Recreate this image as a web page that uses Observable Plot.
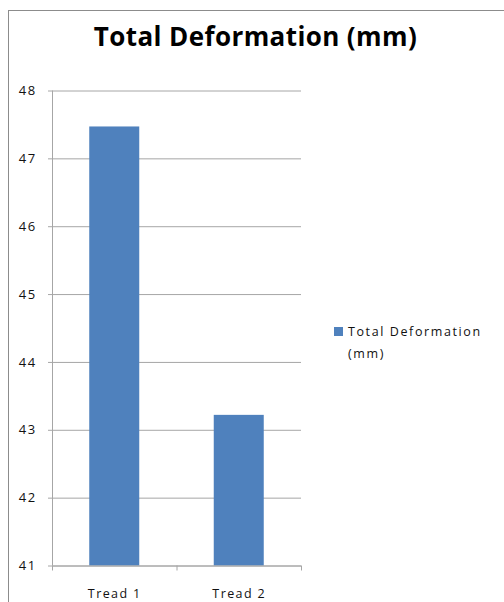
<!DOCTYPE html>
<html>
<head>
<meta charset="utf-8">
<script src="https://cdn.jsdelivr.net/npm/d3@7"></script>
<script src="https://cdn.jsdelivr.net/npm/@observablehq/plot@0.6"></script>
<style>
  html, body { margin: 0; padding: 0; background: #fff; }
  #wrap { position: relative; width: 504px; height: 602px; overflow: hidden; background: #fff; }
  #frame { position: absolute; left: 8px; top: 10px; width: 600px; height: 700px; border-top: 1px solid #8c8c8c; border-left: 1px solid #8c8c8c; }
  #title { position: absolute; left: 0; width: 511px; top: 18px; text-align: center; font-family: "Open Sans", sans-serif; font-weight: bold; font-size: 26px; letter-spacing: 0.4px; color: #000; }
  #legend { position: absolute; left: 334px; top: 321px; font-family: "Open Sans", sans-serif; font-size: 12.5px; letter-spacing: 1.6px; color: #111; line-height: 22px; }
  #legend .sw { position: absolute; left: 0; top: 6px; width: 9px; height: 9px; background: #4f81bd; }
  #legend .tx { position: absolute; left: 14px; top: 0; white-space: nowrap; }
  #chart { position: absolute; left: 0; top: 0; }
  #chart text { letter-spacing: 1.4px; }
</style>
</head>
<body>
<div id="wrap">
  <div id="frame"></div>
  <div id="chart"></div>
  <div id="title"></div>
  <div id="legend"><div class="sw"></div><div class="tx"></div></div>
</div>
<script>
const categories = ["Tread 1", "Tread 2"];
const values = [47.47, 43.22];
const yTicks = [41, 42, 43, 44, 45, 46, 47, 48];
const yDomain = [41, 48];
const seriesName = "Total Deformation (mm)";
const legendLines = ["Total Deformation", "(mm)"];
const barColor = "#4f81bd";
const gridColor = "#a6a6a6";

const data = categories.map((c, i) => ({category: c, index: i, value: values[i]}));
const boundaries = d3.range(categories.length + 1);
const centers = categories.map((c, i) => i + 0.5);

document.getElementById("title").textContent = seriesName;
document.querySelector("#legend .tx").innerHTML = legendLines.join("<br>");

const chart = Plot.plot({
  width: 504,
  height: 602,
  marginLeft: 52,
  marginRight: 203,
  marginTop: 90.5,
  marginBottom: 36.5,
  style: {fontFamily: "'Open Sans', sans-serif", fontSize: "12px", background: "transparent", color: "#111"},
  x: {type: "linear", domain: [0, categories.length], axis: null, label: null},
  y: {domain: yDomain, axis: null, label: null},
  marks: [
    Plot.gridY(yTicks, {stroke: gridColor, strokeOpacity: 1, strokeWidth: 1}),
    Plot.rectY(data, {x1: "index", x2: d => d.index + 1, y1: yDomain[0], y2: "value", fill: barColor, insetLeft: 37.25, insetRight: 37.25}),
    Plot.ruleX([0], {stroke: gridColor, strokeWidth: 1}),
    Plot.ruleY([yDomain[0]], {stroke: gridColor, strokeWidth: 1}),
    Plot.axisY({ticks: yTicks, tickSize: 4, tickPadding: 12, stroke: gridColor, fill: "#111", fontSize: 13, label: null, tickFormat: d => String(d)}),
    Plot.axisX({ticks: boundaries, tickSize: 5, tickFormat: () => "", stroke: gridColor, label: null}),
    Plot.axisX({ticks: centers, tickSize: 0, tickPadding: 23, tickFormat: d => categories[Math.floor(d)], fill: "#111", fontSize: 12.5, label: null})
  ]
});
document.getElementById("chart").appendChild(chart);
</script>
</body>
</html>
